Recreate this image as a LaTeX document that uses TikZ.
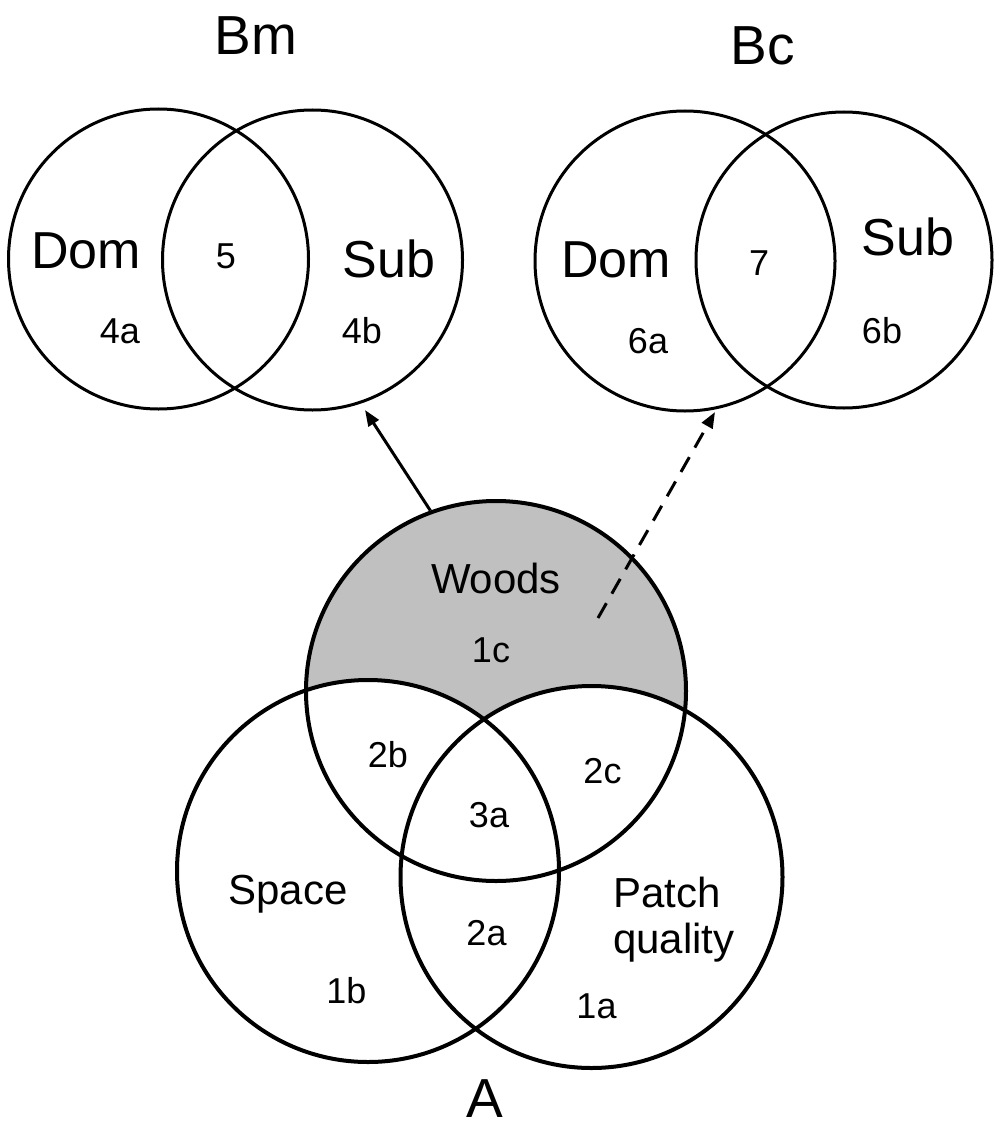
\documentclass[tikz,border=0pt]{standalone}
\usepackage{fontspec}
\setmainfont{Liberation Sans}
\usetikzlibrary{arrows.meta}
\definecolor{woodsgray}{HTML}{C0C0C0}
\begin{document}
\begin{tikzpicture}[x=1pt,y=-1pt,
  topring/.style={circle, draw=black, line width=3pt, minimum size=300pt, inner sep=0pt},
  botring/.style={circle, draw=black, line width=4pt, minimum size=382pt, inner sep=0pt},
  lbl/.style={inner sep=0pt, anchor=base},
  title/.style={lbl, font=\fontsize{55}{60}\selectfont},
  setname/.style={lbl, font=\fontsize{52}{56}\selectfont},
  midname/.style={lbl, font=\fontsize{42}{46}\selectfont},
  num/.style={lbl, font=\fontsize{36}{40}\selectfont},
  link/.style={line width=3pt, -{Triangle[length=16pt,width=12pt]}},
  dashlink/.style={link, dash pattern=on 17pt off 11pt}
]
\useasboundingbox (0,0) rectangle (993,1126);

% --- fills of the bottom Venn (Woods-only region grey) ---
\fill[woodsgray] (496,691) circle[radius=190];
\fill[white] (368,871) circle[radius=191];
\fill[white] (591.5,877) circle[radius=191];

% --- bottom Venn rings ---
\node[botring, minimum size=380pt] (woods) at (496,691) {};
\node[botring] (space) at (368,871) {};
\node[botring] (patch) at (591.5,877) {};

% --- top Venn rings ---
\node[topring] (bmdom) at (158.5,259) {};
\node[topring] (bmsub) at (312.5,260) {};
\node[topring] (bcdom) at (685,261) {};
\node[topring, minimum size=296pt] (bcsub) at (844,260) {};

% --- titles ---
\node[title] (tbm) at (256,55) {Bm};
\node[title] (tbc) at (763,65) {Bc};
\node[title] (ta) at (485,1117) {A};

% --- Bm labels ---
\node[setname] (bmdomlbl) at (86,268) {Dom};
\node[setname] (bmsublbl) at (389,277) {Sub};
\node[num] (n5) at (226,268) {5};
\node[num] (n4a) at (120,343) {4a};
\node[num] (n4b) at (362,343) {4b};

% --- Bc labels ---
\node[setname] (bcdomlbl) at (616,277) {Dom};
\node[setname] (bcsublbl) at (908,255) {Sub};
\node[num] (n7) at (759,275) {7};
\node[num] (n6a) at (648,353) {6a};
\node[num] (n6b) at (882,343) {6b};

% --- bottom Venn labels ---
\node[midname] (woodslbl) at (496,593) {Woods};
\node[num] (n1c) at (491,662) {1c};
\node[num] (n2b) at (388,767) {2b};
\node[num] (n2c) at (602.5,783) {2c};
\node[num] (n3a) at (489,827) {3a};
\node[midname] (spacelbl) at (288,904) {Space};
\node[midname, anchor=base west] (patchlbl) at (613,907) {Patch};
\node[midname, anchor=base west] (qualitylbl) at (613,953) {quality};
\node[num] (n2a) at (486.5,945) {2a};
\node[num] (n1b) at (346.5,1003) {1b};
\node[num] (n1a) at (596.5,1018) {1a};

% --- connectors ---
\coordinate (bmtip) at (365,410);
\coordinate (bctip) at (715,412);
\coordinate (woodsin) at (598,618);
\draw[link] (woods.110.2) -- (bmtip);
\draw[dashlink] (woodsin) -- (bctip);
\end{tikzpicture}
\end{document}
